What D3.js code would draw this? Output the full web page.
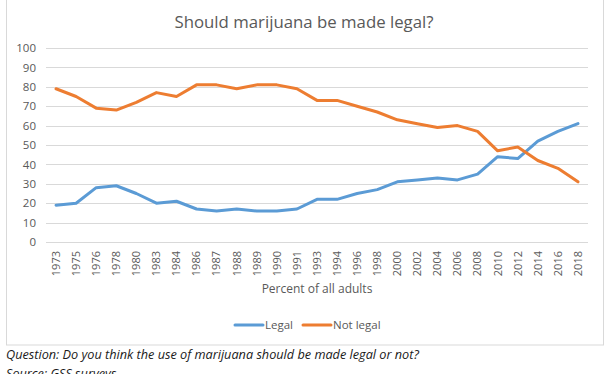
<!DOCTYPE html>
<html>
<head>
<meta charset="utf-8">
<script src="https://cdn.jsdelivr.net/npm/d3@7"></script>
<style>
  body { margin: 0; background: #fff; }
  text { font-family: "Open Sans", "Noto Sans", sans-serif; }
</style>
</head>
<body>
<div id="chart"></div>
<script>
///////////////////// Data ////////////////////////
var years = ["1973","1975","1976","1978","1980","1983","1984","1986","1987","1988","1989","1990","1991",
             "1993","1994","1996","1998","2000","2002","2004","2006","2008","2010","2012","2014","2016","2018"];
var legal    = [19,20,28,29,25,20,21,17,16,17,16,16,17,22,22,25,27,31,32,33,32,35,44,43,52,57,61];
var notLegal = [79,75,69,68,72,77,75,81,81,79,81,81,79,73,73,70,67,63,61,59,60,57,47,49,42,38,31];
var yTicks = [0,10,20,30,40,50,60,70,80,90,100];
var seriesNames = ["Legal", "Not legal"];
var colors = ["#5b9bd5", "#ed7d31"];
///////////////////////////////////////////////////

var width = 612, height = 374;
var svg = d3.select("#chart").append("svg")
    .attr("width", width)
    .attr("height", height);

// chart frame (Excel style)
svg.append("rect")
    .attr("x", 6.5).attr("y", -2)
    .attr("width", 597).attr("height", 347)
    .attr("fill", "#fff")
    .attr("stroke", "#d9d9d9");

svg.append("text")
    .attr("x", 304).attr("y", 28)
    .attr("text-anchor", "middle")
    .style("font-size", "16.8px")
    .attr("fill", "#595959")
    .text("Should marijuana be made legal?");

var x = d3.scaleBand().domain(years).range([46, 588]);
var y = d3.scaleLinear().domain([0, 100]).range([242, 48]);

// gridlines
svg.append("g")
    .selectAll("line")
    .data(yTicks)
    .enter().append("line")
    .attr("x1", 46).attr("x2", 588)
    .attr("y1", function (d) { return Math.round(y(d)) + 0.5; })
    .attr("y2", function (d) { return Math.round(y(d)) + 0.5; })
    .attr("stroke", "#d9d9d9")
    .attr("stroke-width", 1);

// y axis labels
var yAxis = svg.append("g")
    .attr("transform", "translate(46,0)")
    .call(d3.axisLeft(y).tickValues(yTicks).tickSize(0).tickPadding(10));
yAxis.select(".domain").remove();
yAxis.selectAll("text")
    .style("font-size", "11.5px")
    .style("font-family", "'Open Sans', sans-serif")
    .attr("fill", "#595959");

// x axis labels, rotated
var xAxis = svg.append("g")
    .attr("transform", "translate(0,242)")
    .call(d3.axisBottom(x).tickSize(0).tickPadding(0));
xAxis.select(".domain").remove();
xAxis.selectAll("text")
    .style("font-size", "11px")
    .style("font-family", "'Open Sans', sans-serif")
    .attr("fill", "#595959")
    .attr("text-anchor", "end")
    .attr("dy", "0.35em")
    .attr("transform", "translate(0,9) rotate(-90)")
    .attr("y", 0).attr("x", 0);

svg.append("text")
    .attr("x", 317).attr("y", 293)
    .attr("text-anchor", "middle")
    .style("font-size", "12px")
    .attr("fill", "#595959")
    .text("Percent of all adults");

// lines
var line = d3.line()
    .x(function (d, i) { return x(years[i]) + x.bandwidth() / 2; })
    .y(function (d) { return y(d); });

[legal, notLegal].forEach(function (s, i) {
    svg.append("path")
        .datum(s)
        .attr("d", line)
        .attr("fill", "none")
        .attr("stroke", colors[i])
        .attr("stroke-width", 3)
        .attr("stroke-linejoin", "round")
        .attr("stroke-linecap", "round");
});

// legend
var legendX = [235, 303];
seriesNames.forEach(function (name, i) {
    var g = svg.append("g").attr("transform", "translate(" + legendX[i] + ",325)");
    g.append("line")
        .attr("x1", 0).attr("x2", 28)
        .attr("stroke", colors[i])
        .attr("stroke-width", 3)
        .attr("stroke-linecap", "round");
    g.append("text")
        .attr("x", 30).attr("y", 4)
        .style("font-size", "11.5px")
        .attr("fill", "#595959")
        .text(name);
});

// caption below the chart
svg.append("text")
    .attr("x", 6).attr("y", 359)
    .style("font-size", "12.7px")
    .style("font-style", "italic")
    .attr("fill", "#1a1a1a")
    .text("Question: Do you think the use of marijuana should be made legal or not?");

svg.append("text")
    .attr("x", 6).attr("y", 378)
    .style("font-size", "12.7px")
    .style("font-style", "italic")
    .attr("fill", "#1a1a1a")
    .text("Source: GSS surveys");
</script>
</body>
</html>
